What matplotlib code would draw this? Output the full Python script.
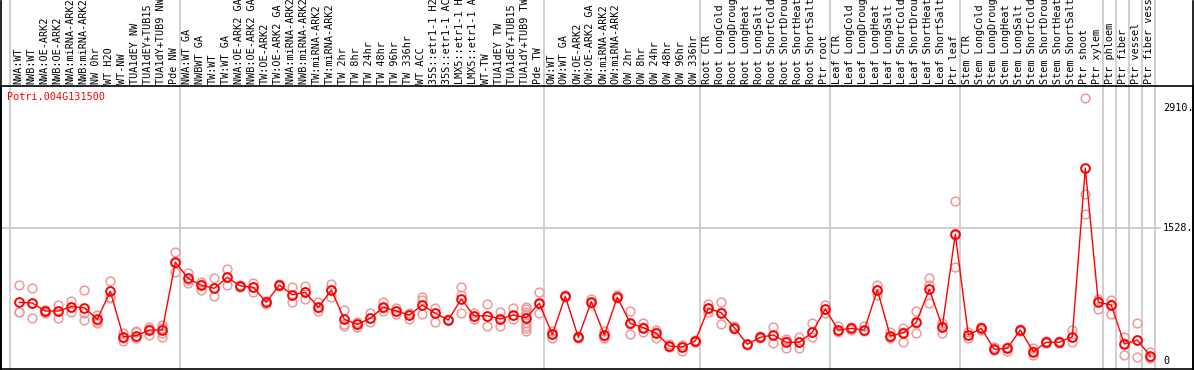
import matplotlib
matplotlib.use("Agg")
import matplotlib.pyplot as plt
import matplotlib.transforms as mtransforms

# ---------------- data ----------------
labels = [
    "NWA:WT", "NWB:WT", "NWA:OE-ARK2", "NWB:OE-ARK2", "NWA:miRNA-ARK2", "NWB:miRNA-ARK2",
    "NW 0hr", "WT H2O", "WT-NW", "TUA1dEY NW", "TUA1dEY+TUB15 NW", "TUA1dY+TUB9 NW", "Pde NW",
    "NWA:WT GA", "NWBWT GA", "TW:WT", "TW:WT GA", "NWA:OE-ARK2 GA", "NWB:OE-ARK2 GA",
    "TW:OE-ARK2", "TW:OE-ARK2 GA", "NWA:miRNA-ARK2 GA", "NWB:miRNA-ARK2 GA", "TW:miRNA-ARK2",
    "TW:miRNA-ARK2 GA", "TW 2hr", "TW 8hr", "TW 24hr", "TW 48hr", "TW 96hr", "TW 336hr",
    "WT ACC", "35S::etr1-1 H2O", "35S::etr1-1 ACC", "LMX5::etr1-1 H2O", "LMX5::etr1-1 ACC",
    "WT-TW", "TUA1dEY TW", "TUA1dEY+TUB15 TW", "TUA1dY+TUB9 TW", "Pde TW",
    "OW:WT", "OW:WT GA", "OW:OE-ARK2", "OW:OE-ARK2 GA", "OW:miRNA-ARK2", "OW:miRNA-ARK2 GA",
    "OW 2hr", "OW 8hr", "OW 24hr", "OW 48hr", "OW 96hr", "OW 336hr",
    "Root CTR", "Root LongCold", "Root LongDrought", "Root LongHeat", "Root LongSalt",
    "Root ShortCold", "Root ShortDrought", "Root ShortHeat", "Root ShortSalt", "Ptr root",
    "Leaf CTR", "Leaf LongCold", "Leaf LongDrought", "Leaf LongHeat", "Leaf LongSalt",
    "Leaf ShortCold", "Leaf ShortDrought", "Leaf ShortHeat", "Leaf ShortSalt", "Ptr leaf",
    "Stem CTR", "Stem LongCold", "Stem LongDrought", "Stem LongHeat", "Stem LongSalt",
    "Stem ShortCold", "Stem ShortDrought", "Stem ShortHeat", "Stem ShortSalt", "Ptr shoot",
    "Ptr xylem", "Ptr phloem", "Ptr fiber", "Ptr vessel", "Ptr fiber vessel",
]

means = [
    674, 666, 574, 574, 624, 613, 479, 801, 279, 291, 356, 356, 1134,
    950, 870, 835, 962, 862, 847, 674, 873, 762, 789, 617, 816, 479, 421, 491, 617, 574, 528,
    643, 548, 471, 712, 517, 521, 483, 528, 498, 663,
    306, 743, 272, 682, 299, 732, 433, 383, 318, 172, 161, 230,
    605, 555, 383, 192, 272, 299, 215, 215, 330, 597,
    356, 375, 356, 816, 287, 325, 444, 824, 394, 1456,
    299, 375, 134, 146, 356, 107, 215, 215, 279, 2214,
    674, 643, 195, 241, 57,
]

replicates = [
    [873, 567, 565], [835, 665, 490], [590, 570, 555], [643, 498, 575], [689, 567, 615],
    [816, 471, 555], [528, 440, 460], [919, 739, 720], [325, 233, 260], [345, 261, 330],
    [394, 299, 370], [414, 279, 318, 380], [1249, 1019, 1130],
    [1015, 893, 930], [911, 816, 880], [950, 747, 840], [1054, 873, 965], [875, 850],
    [893, 796, 850], [690, 655], [885, 860], [854, 674, 760], [865, 712, 790],
    [674, 578, 610], [881, 739, 820], [586, 425, 402], [445, 394, 420], [548, 444, 490],
    [674, 578, 610], [605, 540, 575], [555, 483, 530],
    [739, 540, 700], [605, 444, 550], [485, 470], [847, 548, 758], [548, 480, 520],
    [655, 406, 520], [567, 402, 480], [605, 483, 530],
    [624, 594, 567, 536, 433, 402, 375, 348], [789, 548, 660],
    [345, 261, 310], [760, 730], [290, 260], [712, 670], [345, 265, 290], [758, 720],
    [574, 306, 430], [433, 329, 390], [356, 261, 330], [190, 160], [115, 185, 165], [240, 220],
    [655, 567, 600], [682, 421, 560], [400, 365], [200, 185], [285, 265],
    [387, 203, 300], [253, 153, 230], [279, 153, 215], [440, 272, 330], [640, 550, 600],
    [402, 335, 350], [390, 360], [402, 345], [873, 758, 820], [330, 260, 280],
    [375, 215, 330], [578, 318, 440], [950, 873, 663], [433, 318, 400], [1842, 1076, 1450],
    [337, 261, 300], [390, 360], [165, 125], [165, 110, 150], [370, 345],
    [146, 69, 110], [225, 205], [225, 205], [356, 222, 270], [3018, 1915, 1686],
    [709, 594, 690], [701, 536, 650], [272, 69, 210], [433, 49, 240], [107, 31, 50],
]

group_ends = [-1.08, 12, 40, 52, 62, 72, 83, 84, 85, 86, 87]
y_ticks = [0, 1528, 2910]
y_tick_labels = ["0", "1528.", "2910."]
title = "Potri.004G131500"

# ---------------- figure ----------------
W, H = 1194, 370
fig = plt.figure(figsize=(W / 100, H / 100), dpi=100)
ax_left, ax_right, ax_top, ax_bottom = 1, 1193, 86, 369
ax = fig.add_axes([ax_left / W, (H - ax_bottom) / H,
                   (ax_right - ax_left) / W, (ax_bottom - ax_top) / H])

px0, step = 19.3, 13.0
ax.set_xlim((ax_left - px0) / step, (ax_right - px0) / step)
ax.set_ylim(-92, 3160)
ax.set_xticks([])
ax.set_yticks([])
for s in ax.spines.values():
    s.set_color("black")
    s.set_linewidth(1.2)

grey = "#c8c8c8"
top_frac = 1 + (ax_top + 2) / (ax_bottom - ax_top)
trans_xa = mtransforms.blended_transform_factory(ax.transData, ax.transAxes)
for g in group_ends:
    gx = g + 0.36
    ax.plot([gx, gx], [0, top_frac], color=grey, lw=1.2, transform=trans_xa,
            clip_on=False, zorder=1)

# horizontal grid line at 1528
ax.plot([ax.get_xlim()[0], (1160 - px0) / step], [1528, 1528], color=grey, lw=1.2, zorder=1)

# replicate points
xs = list(range(len(labels)))
rx, ry = [], []
for i, reps in enumerate(replicates):
    for r in reps:
        rx.append(i)
        ry.append(r)
ax.plot(rx, ry, linestyle="none", marker="o", markersize=6.3, markerfacecolor="none",
        markeredgecolor="#ee9a9a", markeredgewidth=1.1, zorder=2)

# mean line + points
ax.plot(xs, means, color="#ff0000", lw=1.0, marker="o", markersize=6.3,
        markerfacecolor="none", markeredgecolor="#ff0000", markeredgewidth=1.4, zorder=3)

# top labels
mono = "DejaVu Sans Mono"
label_y = 1 + 2 / (ax_bottom - ax_top)
for i, lab in enumerate(labels):
    ax.text(i - 0.1, label_y, lab, rotation=90, ha="center", va="bottom",
            fontsize=7.3, family=mono, transform=trans_xa, clip_on=False)

# black frame around the whole figure (label area included)
for (x0, y0, x1, y1) in [(0.5, 0.5, 0.5, H - 0.5), (W - 1.5, 0.5, W - 1.5, H - 0.5)]:
    fig.add_artist(plt.Line2D([x0 / W, x1 / W], [1 - y0 / H, 1 - y1 / H],
                              color="black", lw=1.2))

# y tick labels on the right
trans_ay = mtransforms.blended_transform_factory(ax.transAxes, ax.transData)
lx = (1163 - ax_left) / (ax_right - ax_left)
for v, t in zip(y_ticks, y_tick_labels):
    ax.text(lx, v, t, ha="left", va="center", fontsize=7.3, family=mono,
            transform=trans_ay)

# title
ax.text((7 - ax_left) / (ax_right - ax_left), 1 - (97 - ax_top) / (ax_bottom - ax_top),
        title, color="#ff0000", ha="left", va="center", fontsize=7.3, family=mono,
        transform=ax.transAxes)

fig.savefig("out.png", dpi=100)
